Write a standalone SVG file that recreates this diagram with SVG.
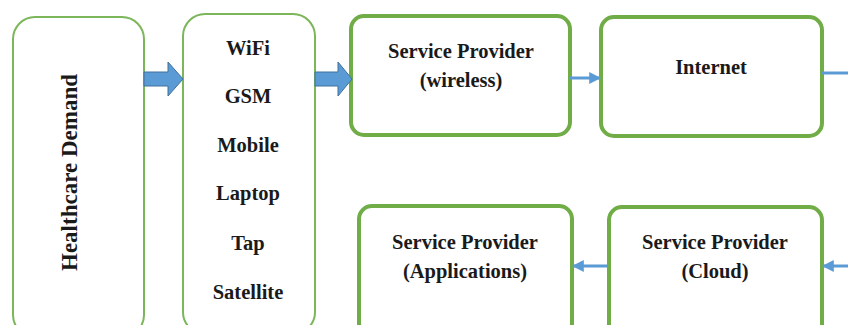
<svg xmlns="http://www.w3.org/2000/svg" width="848" height="325" viewBox="0 0 848 325">
<defs>
<style>
.thin{fill:#fff;stroke:#7cb65a;stroke-width:2}
.thick{fill:#fff;stroke:#70ad47;stroke-width:4}
.t{font-family:"Liberation Serif",serif;font-weight:bold;font-size:20.5px;fill:#1a1a1a;text-anchor:middle}
.blk{fill:#5b9bd5;stroke:#41719c;stroke-width:1}
.ln{stroke:#5b9bd5;stroke-width:3;fill:none;marker-end:url(#ah)}
</style>
<marker id="ah" viewBox="0 0 10 10" refX="9" refY="5" markerWidth="4" markerHeight="4" orient="auto" markerUnits="strokeWidth">
<path d="M0,0 L10,5 L0,10 z" fill="#5b9bd5"/>
</marker>
</defs>
<rect width="848" height="325" fill="#fff"/>
<g id="healthcare">
<rect class="thin" x="13" y="17" width="131" height="320" rx="22"/>
<text class="t" style="font-size:23px" transform="translate(77,172.5) rotate(-90)">Healthcare Demand</text>
</g>
<g id="access">
<rect class="thin" x="183" y="14" width="132" height="320" rx="22"/>
<text class="t" x="248" y="55">WiFi</text>
<text class="t" x="248" y="103">GSM</text>
<text class="t" x="248" y="152">Mobile</text>
<text class="t" x="248" y="200">Laptop</text>
<text class="t" x="248" y="250">Tap</text>
<text class="t" x="248" y="299">Satellite</text>
</g>
<g id="sp-wireless">
<rect class="thick" x="351" y="16" width="219" height="119" rx="13"/>
<text class="t" x="461" y="58">Service Provider</text>
<text class="t" x="461" y="87">(wireless)</text>
</g>
<g id="internet">
<rect class="thick" x="601" y="17" width="221" height="119" rx="13"/>
<text class="t" x="711" y="74">Internet</text>
</g>
<g id="sp-applications">
<rect class="thick" x="359" y="206" width="213" height="130" rx="13"/>
<text class="t" x="465" y="249">Service Provider</text>
<text class="t" x="465" y="278">(Applications)</text>
</g>
<g id="sp-cloud">
<rect class="thick" x="609" y="207" width="213" height="130" rx="13"/>
<text class="t" x="715" y="249">Service Provider</text>
<text class="t" x="715" y="278">(Cloud)</text>
</g>
<g id="connectors">
<path class="blk" d="M144,72 L168,72 L168,62 L183,79 L168,96 L168,86 L144,86 z"/>
<path class="blk" d="M315,72 L338,72 L338,62 L352,79 L338,96 L338,86 L315,86 z"/>
<line class="ln" x1="570" y1="78" x2="600" y2="78"/>
<line x1="822" y1="73" x2="848" y2="73" stroke="#5b9bd5" stroke-width="3"/>
<line class="ln" x1="608" y1="266" x2="573" y2="266"/>
<line class="ln" x1="848" y1="266" x2="823" y2="266"/>
</g>
</svg>
